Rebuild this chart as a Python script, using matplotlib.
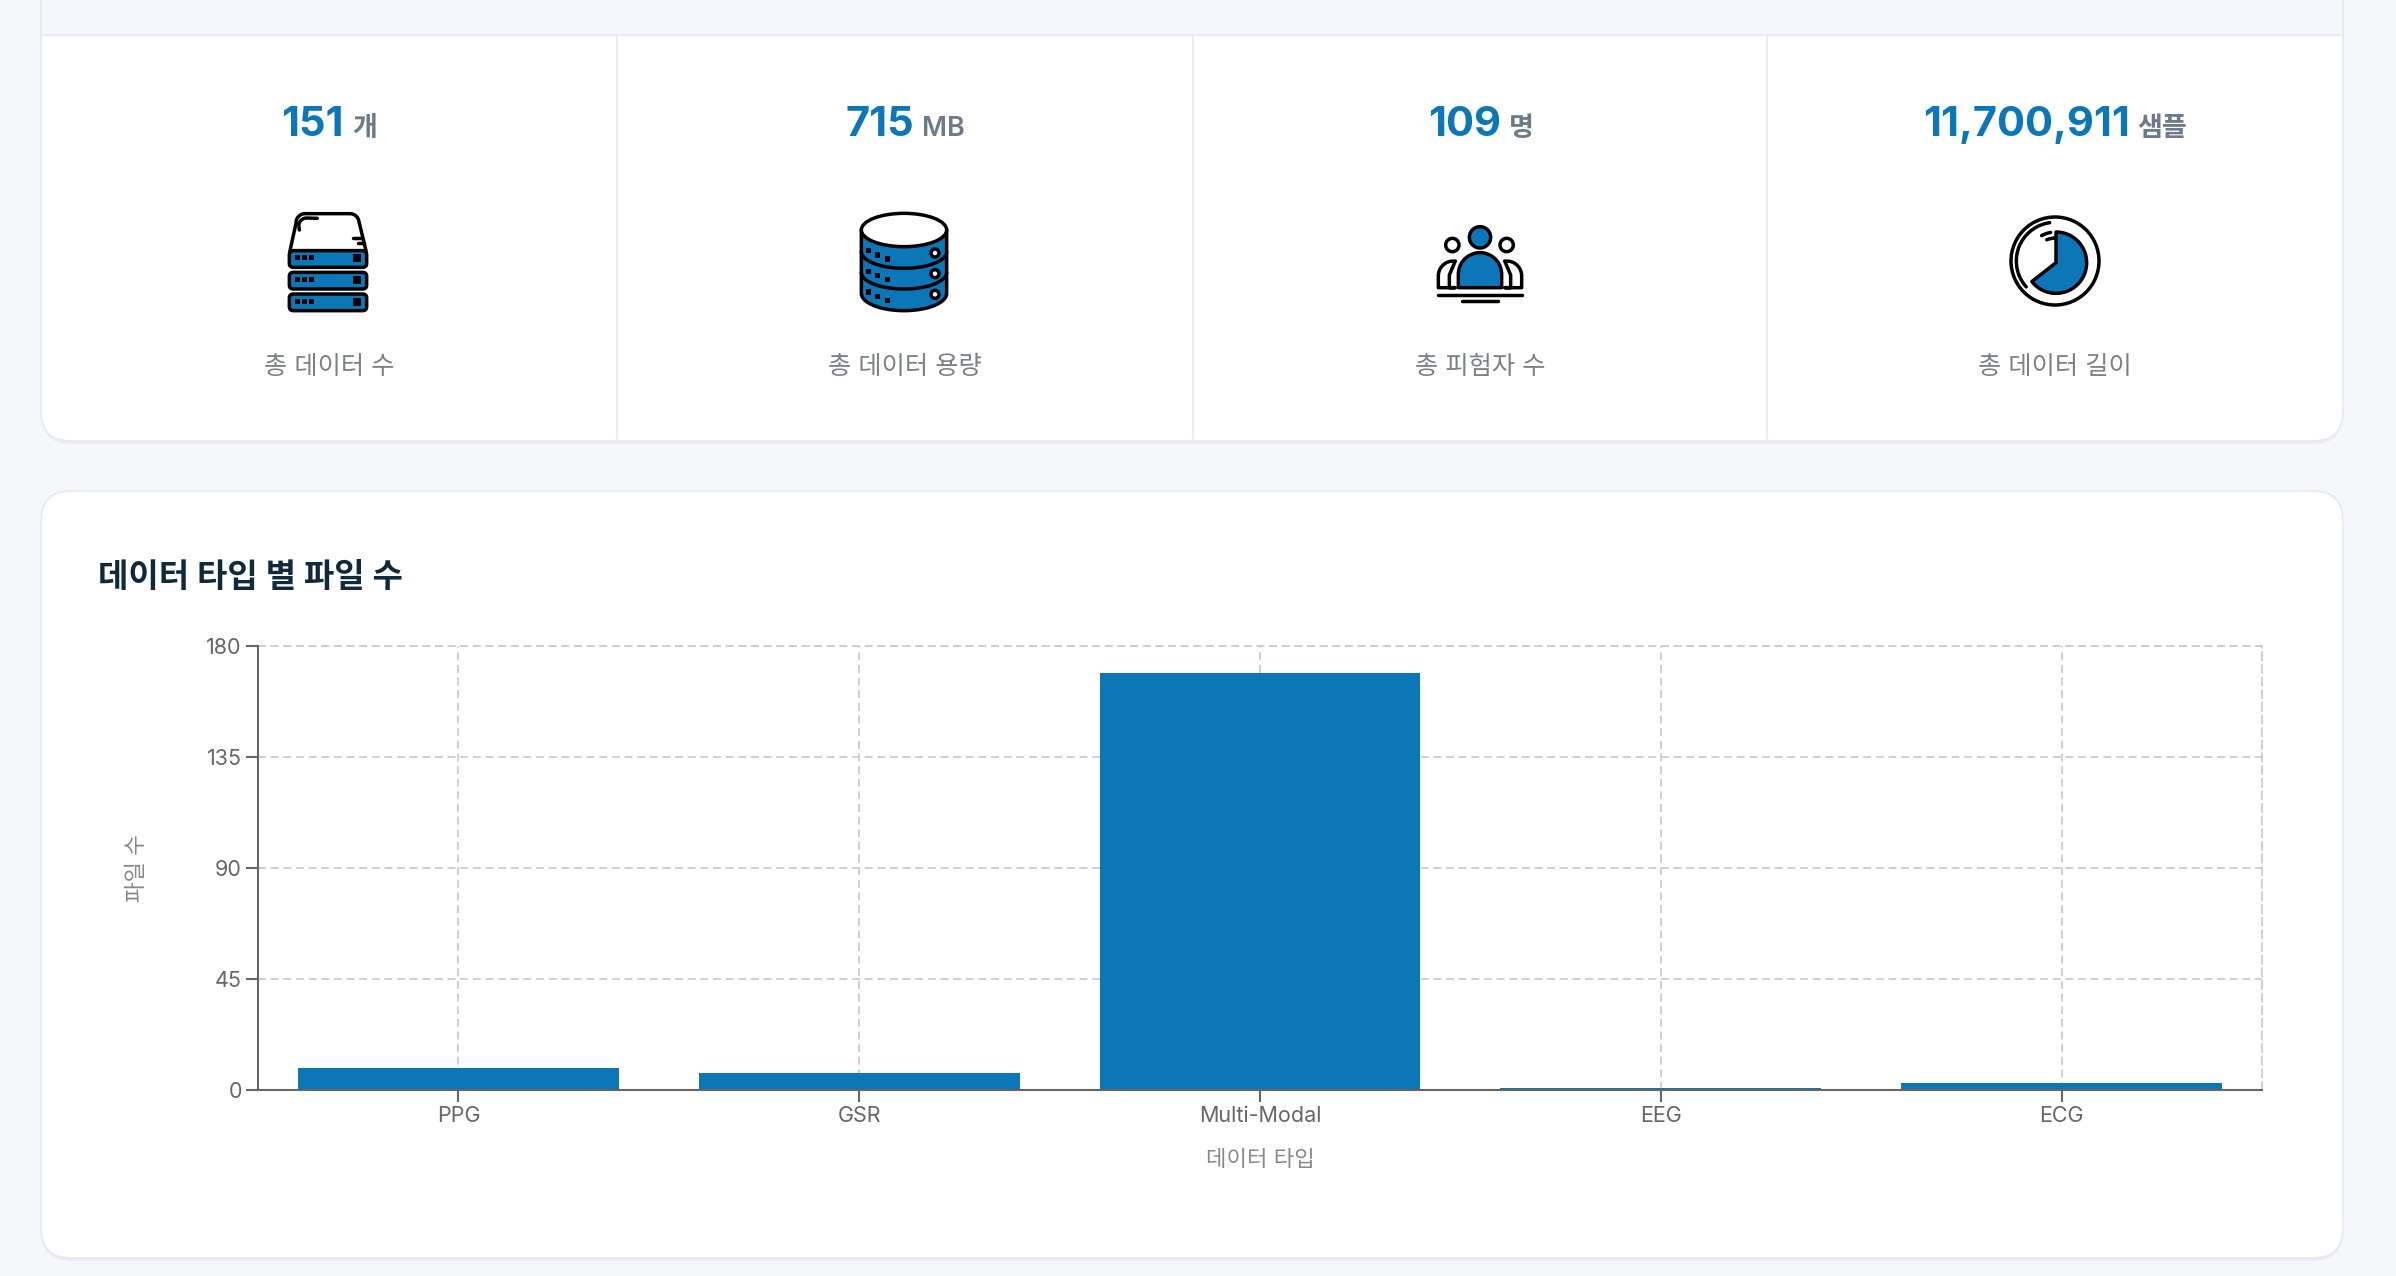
import numpy as np
import matplotlib
matplotlib.use("Agg")
import matplotlib.pyplot as plt
from matplotlib.patches import FancyBboxPatch, Polygon, Circle, Rectangle, Ellipse

plt.rcParams['font.family'] = ['Inter', 'Noto Sans CJK KR', 'DejaVu Sans']

# data
categories = ['PPG', 'GSR', 'Multi-Modal', 'EEG', 'ECG']
file_counts = [9, 7, 169, 1, 3]
y_ticks = [0, 45, 90, 135, 180]

stat_values = ['151', '715', '109', '11,700,911']
stat_units = ['개', 'MB', '명', '샘플']
stat_labels = ['총 데이터 수', '총 데이터 용량', '총 피험자 수', '총 데이터 길이']

BLUE = '#0b77b8'
INK = '#000000'
BORDER = '#e6e9ef'
PAGE = '#f5f7fa'
LW = 2.5

W, H = 2396, 1276
fig = plt.figure(figsize=(W / 100, H / 100), dpi=100, facecolor=PAGE)
bg = fig.add_axes([0, 0, 1, 1])
bg.set_xlim(0, W)
bg.set_ylim(H, 0)
bg.axis('off')


def card(x0, y0, x1, y1):
    bg.add_patch(FancyBboxPatch((x0, y0 + 3), x1 - x0, y1 - y0, boxstyle='round,pad=0,rounding_size=30',
                                fc='#e9ecf1', ec='none'))
    bg.add_patch(FancyBboxPatch((x0, y0), x1 - x0, y1 - y0, boxstyle='round,pad=0,rounding_size=30',
                                fc='white', ec=BORDER, lw=1.3))


card(41, -60, 2343, 441)
bg.add_patch(Rectangle((42, -2), 2300, 36, fc='#f4f7fb', ec='none'))
bg.plot([41, 2343], [35, 35], color=BORDER, lw=1.6)
card(41, 491, 2343, 1258)
for x in [617, 1193, 1767]:
    bg.plot([x, x], [36, 441], color=BORDER, lw=1.2)

centers = [329, 905, 1480.5, 2055]
renderer = fig.canvas.get_renderer()
for cx, val, unit, lab in zip(centers, stat_values, stat_units, stat_labels):
    t1 = bg.text(0, 136, val, fontsize=30, fontweight='bold', color=BLUE, va='baseline', ha='left')
    t2 = bg.text(0, 136, unit, fontsize=19.5, fontweight='semibold', color='#6e7a8a', va='baseline', ha='left')
    w1 = t1.get_window_extent(renderer).width
    w2 = t2.get_window_extent(renderer).width
    start = cx - (w1 + 8 + w2) / 2
    t1.set_x(start)
    t2.set_x(start + w1 + 8)
    bg.text(cx, 367, lab, fontsize=18.2, color='#7b8087', ha='center', va='center')


def line(ox, oy, pts, lw=LW, color=INK):
    xs = [ox + p[0] / 3 for p in pts]
    ys = [oy + p[1] / 3 for p in pts]
    bg.plot(xs, ys, color=color, lw=lw, solid_capstyle='round', solid_joinstyle='round')


def arc(cx, cy, r, a0, a1, n=60, ry=None):
    ry = r if ry is None else ry
    t = np.radians(np.linspace(a0, a1, n))
    return [(cx + r * np.cos(a), cy - ry * np.sin(a)) for a in t]


def shape(ox, oy, pts, fc, lw=LW):
    pts = [(ox + p[0] / 3, oy + p[1] / 3) for p in pts]
    bg.add_patch(Polygon(pts, closed=True, fc=fc, ec=INK, lw=lw, joinstyle='round'))


def dot(ox, oy, px, py, r, fc='white', lw=LW):
    bg.add_patch(Circle((ox + px / 3, oy + py / 3), r / 3, fc=fc, ec=INK, lw=lw))


def sq(ox, oy, px, py, s):
    bg.add_patch(Rectangle((ox + (px - s / 2) / 3, oy + (py - s / 2) / 3), s / 3, s / 3, fc=INK, ec='none'))


# server icon
ox, oy = 260, 190
shape(ox, oy, [(90, 182)] + [(108, 100)] + arc(135, 98, 27, 170, 90, 10) + arc(270, 98, 27, 90, 10, 10) + [(318, 182)], 'white')
line(ox, oy, [(118, 120)] + arc(140, 108, 24, 170, 90, 8) + [(172, 85)])
line(ox, oy, [(278, 143), (305, 143)])
line(ox, oy, [(295, 158), (311, 158)])
for y0 in [182, 247, 312]:
    bg.add_patch(FancyBboxPatch((ox + 88 / 3, oy + y0 / 3), 232 / 3, 50 / 3, boxstyle='round,pad=0,rounding_size=4',
                                fc=BLUE, ec=INK, lw=LW))
    for px in [112, 133, 155]:
        sq(ox, oy, px, y0 + 21, 15)
    sq(ox, oy, 292, y0 + 23, 24)

# database icon
ox, oy = 840, 190
shape(ox, oy, [(64, 120)] + arc(192, 310, 128, 180, 360, 50, ry=52) + [(320, 120)], BLUE)
for base in [185, 247]:
    line(ox, oy, arc(192, base, 128, 180, 360, 50, ry=50))
bg.add_patch(Ellipse((ox + 192 / 3, oy + 120 / 3), 256 / 3, 100 / 3, fc='white', ec=INK, lw=LW))
for off in [0, 62, 124]:
    for px, py in [(85, 182), (113, 195), (143, 207)]:
        sq(ox, oy, px, py + off, 16)
    dot(ox, oy, 285, 189 + off, 12)

# people icon
ox, oy = 1420, 210
dot(ox, oy, 180, 82, 32, BLUE)
dot(ox, oy, 97, 105, 20)
dot(ox, oy, 260, 105, 20)
shape(ox, oy, [(115, 233)] + arc(180, 193, 65, 180, 0, 40) + [(245, 233)], BLUE)
shape(ox, oy, [(105, 233), (55, 233), (55, 198)] + arc(100, 198, 45, 180, 100, 12) + [(106, 153), (88, 195), (88, 233)], 'white')
shape(ox, oy, [(255, 233), (305, 233), (305, 198)] + arc(260, 198, 45, 0, 80, 12) + [(254, 153), (272, 195), (272, 233)], 'white')
line(ox, oy, [(55, 256), (305, 256)])
line(ox, oy, [(125, 273), (235, 273)])

# clock icon
ox, oy = 2000, 206
dot(ox, oy, 165, 165, 132)
line(ox, oy, arc(165, 165, 116, 222, 98))
shape(ox, oy, [(168, 170)] + arc(168, 170, 92, 90, -142, 60), BLUE)
line(ox, oy, arc(168, 170, 92, 118, 100, 10))
line(ox, oy, arc(168, 170, 74, 112, 92, 10))

bg.text(98, 579, '데이터 타입 별 파일 수', fontsize=23.8, fontweight='bold', color='#0f2a3d', ha='left', va='center')

# chart
ax = fig.add_axes([258 / W, 1 - 1090 / H, (2262 - 258) / W, (1090 - 646) / H])
ax.patch.set_alpha(0)
x = np.arange(len(categories))
ax.bar(x, file_counts, width=0.8, color=BLUE, zorder=3)
ax.set_xlim(-0.5, 4.5)
ax.set_ylim(0, 180)
ax.set_xticks(x)
ax.set_xticklabels(categories)
ax.set_yticks(y_ticks)

dash = (0, (4.4, 2.6))
ax.grid(True, color='#cccccc', lw=1.3, linestyle=dash, zorder=0)
ax.set_axisbelow(True)
ax.spines['top'].set_visible(False)
ax.axhline(180, color='#cccccc', lw=1.3, linestyle=dash, clip_on=False, zorder=0)
ax.spines['right'].set_color('#cccccc')
ax.spines['right'].set_linewidth(1.3)
ax.spines['right'].set_linestyle(dash)
for s in ['left', 'bottom']:
    ax.spines[s].set_color('#666666')
    ax.spines[s].set_linewidth(1.5)
    ax.spines[s].set_zorder(4)
ax.tick_params(axis='both', length=8.6, width=1.5, color='#666666', labelcolor='#666666', labelsize=15.5, pad=3)

ax.set_xlabel('데이터 타입', fontsize=16, color='#888888')
ax.xaxis.set_label_coords(0.5, -(1160 - 1090) / 444)
ax.xaxis.label.set_va('center')
ax.set_ylabel('파일 수', fontsize=16, color='#888888')
ax.yaxis.set_label_coords(-(258 - 137) / 2004, (1090 - 868) / 444)
ax.yaxis.label.set_va('center')

fig.savefig('out.png', dpi=100, facecolor=PAGE)
